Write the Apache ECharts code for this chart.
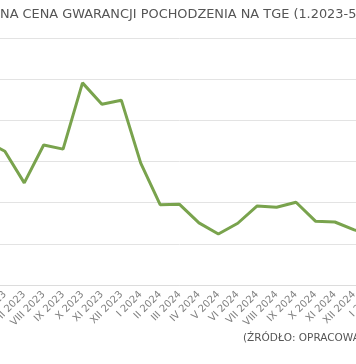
<!DOCTYPE html>
<html>
<head>
<meta charset="utf-8">
<script src="https://cdn.jsdelivr.net/npm/echarts@6/dist/echarts.min.js"></script>
<style>
html,body{margin:0;padding:0;background:#fff;overflow:hidden;width:356px;height:364px;}
#c{position:absolute;left:-130px;top:0;width:626px;height:364px;}
</style>
</head>
<body>
<div id="c"></div>
<script>
var categories = ['I 2023','II 2023','III 2023','IV 2023','V 2023','VI 2023','VII 2023','VIII 2023','IX 2023','X 2023','XI 2023','XII 2023',
  'I 2024','II 2024','III 2024','IV 2024','V 2024','VI 2024','VII 2024','VIII 2024','IX 2024','X 2024','XI 2024','XII 2024',
  'I 2025','II 2025','III 2025','IV 2025','V 2025'];
var prices = [45, 42, 40, 38, 35, 32.5, 24.8, 34.0, 33.0, 49.1, 43.9, 44.9,
  29.6, 19.5, 19.6, 15.1, 12.4, 15.0, 19.2, 18.9, 20.1, 15.5, 15.3, 13.4,
  12, 11, 10, 9.5, 9];
var yTicks = [0, 10, 20, 30, 40, 50, 60];
var titleText = 'ŚREDNIA MIESIĘCZNA CENA GWARANCJI POCHODZENIA NA TGE (1.2023-5.2025)';
var titleHidden = 'ŚREDNIA MIESIĘCZ';
var sourceText = '(ŹRÓDŁO: OPRACOWANIE WŁASNE NA PODSTAWIE DANYCH TGE)';

var shift = 130;
var titleFont = '12.9px "DejaVu Sans"';
var cv = document.createElement('canvas').getContext('2d');
cv.font = titleFont;
var hiddenW = cv.measureText(titleHidden).width;

var chart = echarts.init(document.getElementById('c'), null, {renderer: 'canvas'});
chart.setOption({
  animation: false,
  backgroundColor: '#fff',
  grid: {left: 37.8, right: 44.7, top: 38, bottom: 79, containLabel: false},
  xAxis: {
    type: 'category',
    data: categories,
    boundaryGap: false,
    axisLine: {lineStyle: {color: '#dcdcdc', width: 1}},
    axisTick: {show: false},
    axisLabel: {rotate: 45, color: '#808080', fontSize: 10, fontFamily: 'DejaVu Sans', margin: 8, interval: 0}
  },
  yAxis: {
    type: 'value',
    min: yTicks[0], max: yTicks[yTicks.length - 1], interval: 10,
    axisLine: {show: false},
    axisTick: {show: false},
    axisLabel: {color: '#808080', fontSize: 10},
    splitLine: {lineStyle: {color: '#e3e3e3', width: 1}}
  },
  graphic: [
    {type: 'text', left: shift - hiddenW, top: 8.5,
     style: {text: titleText, font: titleFont, fill: '#555'}},
    {type: 'text', left: shift + 243, top: 333,
     style: {text: sourceText, font: '10.5px "DejaVu Sans"', fill: '#555'}}
  ],
  series: [{
    type: 'line',
    data: prices,
    symbol: 'none',
    lineStyle: {color: '#79a34d', width: 3},
    itemStyle: {color: '#79a34d'}
  }]
});
</script>
</body>
</html>
